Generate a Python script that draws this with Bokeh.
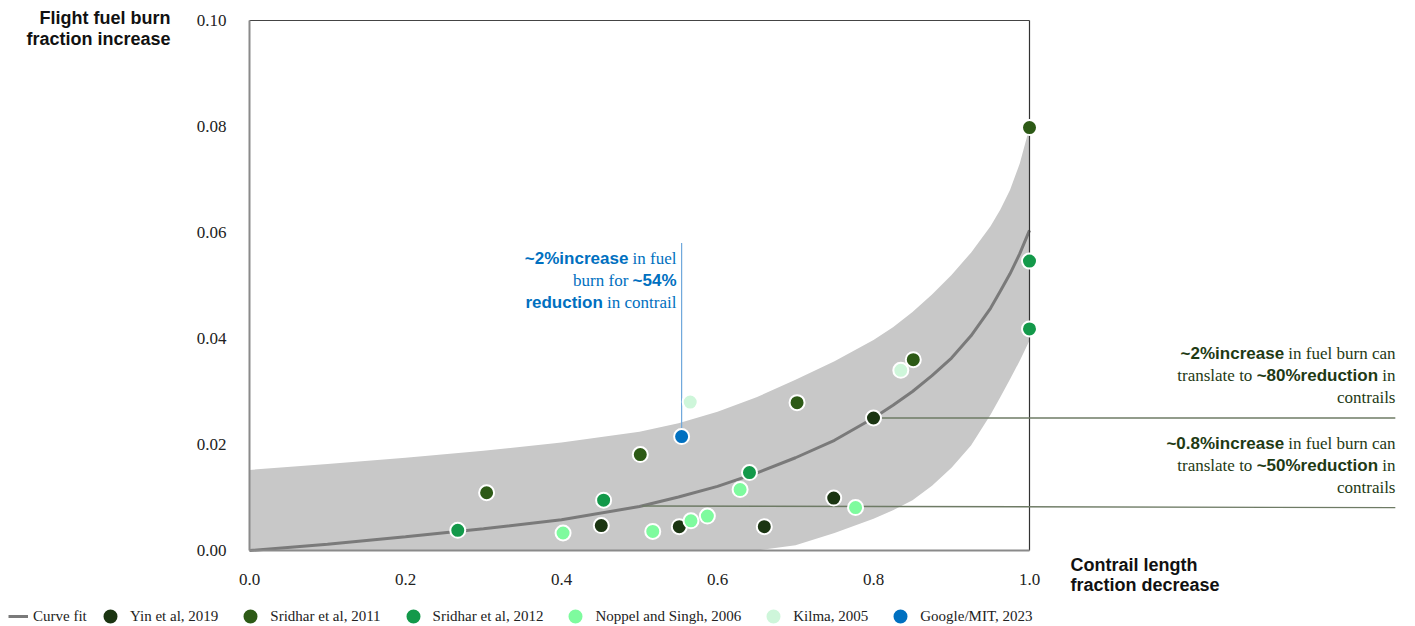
from bokeh.plotting import figure
from bokeh.models import Range1d, FixedTicker, Label, Legend, LegendItem, NumeralTickFormatter
from bokeh.embed import file_html
from bokeh.resources import INLINE

# ---------------- data ----------------
fit_x = [0, 0.1, 0.2, 0.3, 0.4, 0.5, 0.55, 0.6, 0.65, 0.7, 0.75, 0.8, 0.825, 0.85, 0.875,
         0.9, 0.925, 0.95, 0.9625, 0.975, 0.9875, 1.0]
fit_y = [0, 0.0012, 0.0026, 0.0041, 0.0058, 0.0083, 0.0101, 0.0121, 0.0146, 0.0175, 0.0208, 0.0250,
         0.0274, 0.0300, 0.0330, 0.0363, 0.0405, 0.0457, 0.0489, 0.0522, 0.0560, 0.0604]
band_hi = [0.0152, 0.0163, 0.0175, 0.0188, 0.0204, 0.0224, 0.0240, 0.0262, 0.0289, 0.0322, 0.0357,
           0.0397, 0.0421, 0.0450, 0.0483, 0.0520, 0.0562, 0.0612, 0.0643, 0.0680, 0.0730, 0.0798]
band_lo = [0, 0, 0, 0, 0, 0, 0, 0, 0, 0.0010, 0.0033,
           0.0060, 0.0076, 0.0095, 0.0122, 0.0156, 0.0198, 0.0256, 0.0289, 0.0323, 0.0358, 0.0396]

yin_x = [0.451, 0.551, 0.660, 0.749, 0.800]
yin_y = [0.0047, 0.0045, 0.0045, 0.0099, 0.0250]
sri11_x = [0.304, 0.501, 0.702, 0.851, 1.0]
sri11_y = [0.0109, 0.0181, 0.0279, 0.0360, 0.0798]
sri12_x = [0.267, 0.454, 0.641, 1.0, 1.0]
sri12_y = [0.0038, 0.0095, 0.0147, 0.0546, 0.0418]
nop_x = [0.402, 0.517, 0.566, 0.587, 0.629, 0.777]
nop_y = [0.0033, 0.0036, 0.0056, 0.0065, 0.0115, 0.0081]
kil_x = [0.565, 0.835]
kil_y = [0.0280, 0.0340]
goo_x = [0.554]
goo_y = [0.0215]

series_names = ["Yin et al, 2019", "Sridhar et al, 2011", "Sridhar et al, 2012",
                "Noppel and Singh, 2006", "Kilma, 2005", "Google/MIT, 2023"]
series_colors = ["#1b3512", "#2d5a16", "#13994a", "#7efb9e", "#cef6da", "#0070c0"]

x_ticks = [0.0, 0.2, 0.4, 0.6, 0.8, 1.0]
y_ticks = [0.0, 0.02, 0.04, 0.06, 0.08, 0.10]

# ---------------- figure ----------------
# frame covers the whole canvas; axes are pinned at x=0 / y=0
W, H = 1415, 626
X0, PXX = 249, 780.0     # pixel of x=0, pixels per x unit
Y0, PXY = 550, 5300.0    # pixel of y=0, pixels per y unit
p = figure(width=W, height=H, output_backend="svg", toolbar_location=None,
           x_range=Range1d(-X0 / PXX, (W - X0) / PXX),
           y_range=Range1d(-(H - Y0) / PXY, Y0 / PXY),
           min_border=0)
p.outline_line_color = None
p.grid.visible = False
p.background_fill_color = "white"

for ax, ticks, fmt in ((p.xaxis, x_ticks, "0.0"), (p.yaxis, y_ticks, "0.00")):
    ax.ticker = FixedTicker(ticks=ticks)
    ax.formatter = NumeralTickFormatter(format=fmt)
    ax.fixed_location = 0
    ax.major_tick_line_color = None
    ax.minor_tick_line_color = None
    ax.axis_line_color = "#8a8a8a"
    ax.axis_line_width = 2
    ax.major_label_text_font = "Liberation Serif"
    ax.major_label_text_font_size = "17px"
    ax.major_label_text_color = "#222222"
    ax.major_label_standoff = 17
p.xaxis.bounds = (0, 1)
p.yaxis.bounds = (0, 0.1)

# band and fit
p.varea(x=fit_x, y1=band_lo, y2=band_hi, fill_color="#c8c8c8")
fit_r = p.line(fit_x, fit_y, line_color="#7a7a7a", line_width=3)

# frame top / right
p.line([0, 1], [0.1, 0.1], line_color="#444444", line_width=1)
p.line([1, 1], [0, 0.1], line_color="#333333", line_width=1.2)

# annotation leader lines
p.line([yin_x[4], 1.469], [yin_y[4], yin_y[4]], line_color="#6e7b65", line_width=1.3)
p.line([0.503, 1.469], [0.0084, 0.0081], line_color="#6e7b65", line_width=1.3)
p.line([goo_x[0], goo_x[0]], [goo_y[0], 0.058], line_color="#6fa8dc", line_width=1.2)

# points
renderers = []
for xs, ys, col in zip([yin_x, sri11_x, sri12_x, nop_x, kil_x, goo_x],
                       [yin_y, sri11_y, sri12_y, nop_y, kil_y, goo_y], series_colors):
    r = p.scatter(xs, ys, size=15, fill_color=col, line_color="white", line_width=2)
    renderers.append(r)

# ---------------- text ----------------
SANS_B = {" ": 278, "~": 584, "%": 889, ".": 278, "a": 556, "b": 611, "c": 556, "d": 611, "e": 556,
          "f": 333, "g": 611, "h": 611, "i": 278, "l": 278, "m": 889, "n": 611, "o": 611, "p": 611,
          "r": 389, "s": 556, "t": 333, "u": 611}
SERIF = {" ": 250, "~": 541, "%": 833, ".": 250, ",": 250, "a": 444, "b": 500, "c": 444, "d": 500,
         "e": 444, "f": 333, "g": 500, "h": 500, "i": 278, "l": 278, "m": 778, "n": 500, "o": 500,
         "p": 500, "r": 333, "s": 389, "t": 278, "u": 500}


def tw(s, table, size):
    return sum(table.get(ch, 556) for ch in s) * size / 1000.0


def rich_line(x, y, segs, color, size=17):
    widths = [tw(t, SANS_B if b else SERIF, size) for t, b in segs]
    space = tw(" ", SERIF, size)
    total = sum(widths) + space * (len(segs) - 1)
    off = -total
    for (t, b), w in zip(segs, widths):
        p.add_layout(Label(x=x, y=y, x_offset=off, text=t, text_align="left", text_baseline="middle",
                           text_font="Liberation Sans" if b else "Liberation Serif",
                           text_font_style="bold" if b else "normal",
                           text_font_size=f"{size}px", text_color=color))
        off += w + space


def px_x(px):
    return (px - X0) / PXX


def px_y(py):
    return (Y0 - py) / PXY


GREEN_TXT = "#1e3a14"
BLUE_TXT = "#0070c0"
R = px_x(1395)
rich_line(R, px_y(353), [("~2%increase", True), ("in fuel burn can", False)], GREEN_TXT)
rich_line(R, px_y(375), [("translate to", False), ("~80%reduction", True), ("in", False)], GREEN_TXT)
rich_line(R, px_y(397), [("contrails", False)], GREEN_TXT)
rich_line(R, px_y(443), [("~0.8%increase", True), ("in fuel burn can", False)], GREEN_TXT)
rich_line(R, px_y(465), [("translate to", False), ("~50%reduction", True), ("in", False)], GREEN_TXT)
rich_line(R, px_y(487), [("contrails", False)], GREEN_TXT)

B = px_x(676)
rich_line(B, px_y(258), [("~2%increase", True), ("in fuel", False)], BLUE_TXT)
rich_line(B, px_y(280), [("burn for", False), ("~54%", True)], BLUE_TXT)
rich_line(B, px_y(302), [("reduction", True), ("in contrail", False)], BLUE_TXT)

# axis titles
for txt, py in (("Flight fuel burn", 17), ("fraction increase", 38)):
    p.add_layout(Label(x=px_x(170), y=px_y(py), text=txt, text_align="right", text_baseline="middle",
                       text_font="Liberation Sans", text_font_style="bold", text_font_size="18px",
                       text_color="#111111"))
for txt, py in (("Contrail length", 564), ("fraction decrease", 584)):
    p.add_layout(Label(x=px_x(1070), y=px_y(py), text=txt, text_align="left", text_baseline="middle",
                       text_font="Liberation Sans", text_font_style="bold", text_font_size="18px",
                       text_color="#111111"))

# legends (line item and circle items need different glyph boxes)
common = dict(orientation="horizontal", label_text_font="Liberation Serif", label_text_font_size="15px",
              label_text_color="#222222", padding=0, margin=0, border_line_color=None,
              background_fill_alpha=0)
leg_line = Legend(items=[LegendItem(label="Curve fit", renderers=[fit_r])], location=(8, 1),
                  glyph_width=20, glyph_height=18, label_standoff=5, **common)
leg_pts = Legend(items=[LegendItem(label=n, renderers=[r]) for n, r in zip(series_names, renderers)],
                 location=(90, -10), glyph_width=40, glyph_height=40, label_standoff=0, spacing=12,
                 **common)
p.add_layout(leg_line)
p.add_layout(leg_pts)

open("out.html", "w").write(file_html(p, INLINE))
